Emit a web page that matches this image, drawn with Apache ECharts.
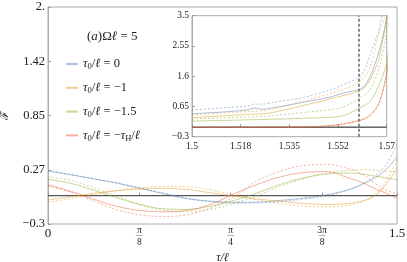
<!DOCTYPE html>
<html><head><meta charset="utf-8">
<script src="https://cdn.jsdelivr.net/npm/echarts@6/dist/echarts.min.js"></script>
<style>html,body{margin:0;padding:0;background:#fff}#c{width:407px;height:262px}</style>
</head><body><div id="c"></div>
<script>
// ---- main panel data (tau/l from 0 to 1.5) ----
const tau = [0,0.1,0.2,0.3,0.4,0.5,0.6,0.7,0.8,0.9,1.0,1.1,1.2,1.3,1.35,1.4,1.45,1.5];
const blueSolid   = [0.26,0.22,0.176,0.13,0.075,0.02,-0.03,-0.058,-0.07,-0.068,-0.05,-0.025,0.01,0.07,0.12,0.18,0.27,0.41];
const blueDashed  = [0.27,0.225,0.18,0.135,0.08,0.025,-0.032,-0.065,-0.08,-0.077,-0.062,-0.036,0.0,0.07,0.125,0.2,0.32,0.54];
const orangeSolid = [-0.045,-0.01,0.025,0.055,0.07,0.078,0.065,0.03,-0.005,-0.035,-0.06,-0.082,-0.093,-0.08,-0.055,-0.01,0.11,0.29];
const orangeDashed= [-0.07,-0.03,0.015,0.055,0.085,0.1,0.095,0.06,0.005,-0.045,-0.085,-0.11,-0.12,-0.1,-0.065,0.0,0.14,0.38];
const greenSolid  = [0.175,0.13,0.055,-0.025,-0.095,-0.14,-0.145,-0.11,-0.05,0.03,0.12,0.19,0.23,0.24,0.23,0.21,0.19,0.17];
const greenDashed = [0.2,0.16,0.08,-0.01,-0.1,-0.155,-0.17,-0.145,-0.08,0.0,0.1,0.18,0.24,0.27,0.275,0.27,0.26,0.255];
const redSolid    = [0.115,0.045,-0.04,-0.115,-0.158,-0.17,-0.155,-0.09,0.02,0.12,0.2,0.245,0.255,0.18,0.14,0.08,0.03,-0.03];
const redDashed   = [0.1,0.035,-0.06,-0.15,-0.205,-0.22,-0.2,-0.13,-0.01,0.16,0.26,0.32,0.33,0.28,0.23,0.14,0.06,0.02];

// ---- inset data (tau/l from 1.5 to 1.57) ----
const insetBlueSolid   = [[1.5,0.42],[1.51,0.47],[1.52,0.54],[1.5227,0.6],[1.525,0.56],[1.53,0.62],[1.54,0.78],[1.55,0.95],[1.5539,1.06],[1.561,1.22],[1.564,1.58],[1.5672,2.37],[1.5701,3.5],[1.571,4.5]];
const insetBlueDashed  = [[1.5,0.54],[1.51,0.6],[1.52,0.67],[1.5227,0.73],[1.525,0.72],[1.53,0.79],[1.54,0.93],[1.55,1.18],[1.554,1.32],[1.561,1.64],[1.564,2.27],[1.567,3.0],[1.5682,3.5],[1.57,4.5]];
const insetOrangeSolid = [[1.5,0.3],[1.51,0.35],[1.52,0.4],[1.5273,0.435],[1.54,0.68],[1.5539,0.98],[1.561,1.17],[1.564,1.48],[1.5672,2.16],[1.5701,3.5],[1.571,4.5]];
const insetOrangeDashed= [[1.5,0.38],[1.51,0.44],[1.52,0.49],[1.5273,0.54],[1.54,0.82],[1.5539,1.17],[1.561,1.48],[1.564,1.88],[1.567,2.89],[1.5694,3.5],[1.571,4.5]];
const insetGreenSolid  = [[1.5,0.19],[1.51,0.21],[1.52,0.23],[1.5273,0.246],[1.54,0.28],[1.5539,0.35],[1.561,0.64],[1.564,0.8],[1.5672,1.32],[1.5701,2.05],[1.571,3.0]];
const insetGreenDashed = [[1.5,0.256],[1.51,0.29],[1.52,0.32],[1.5273,0.35],[1.54,0.46],[1.5539,0.62],[1.561,0.956],[1.564,1.17],[1.5672,1.85],[1.5694,2.68],[1.5705,3.5],[1.571,4.0]];
const insetRedSolid    = [[1.5,0.0],[1.52,0.0],[1.54,0.01],[1.548,0.04],[1.554,0.1],[1.561,0.23],[1.564,0.38],[1.5672,0.75],[1.5701,1.74],[1.571,2.5]];
const insetRedDashed   = [[1.5,-0.01],[1.52,-0.01],[1.54,0.0],[1.548,0.03],[1.554,0.09],[1.561,0.22],[1.564,0.36],[1.5672,0.72],[1.5701,1.7],[1.571,2.4]];
const tauH = 1.561;

// ---- ticks ----
const mainYTicks = [-0.3, 0.275, 0.85, 1.425, 2.0];
const mainYLabels = ['\u22120.3', '0.27', '0.85', '1.42', '2.'];
const mainXTicks = [0, Math.PI/8, Math.PI/4, 3*Math.PI/8, 1.5];
const mainXLabels = ['{r|0}', '{n|\u03c0}\n{b|\u2014}\n{d|8}', '{n|\u03c0}\n{b|\u2014}\n{d|4}', '{n|3\u03c0}\n{b|\u2014}\n{d|8}', '{r|1.5}'];
const insetYTicks = [-0.3, 0.65, 1.6, 2.55, 3.5];
const insetYLabels = ['\u22120.3', '0.65', '1.6', '2.55', '3.5'];
const insetXTicks = [1.5, 1.5175, 1.535, 1.5525, 1.57];
const insetXLabels = ['1.5', '1.518', '1.535', '1.552', '1.57'];
const legendNames = ['\u03c40/\u2113 = 0', '\u03c40/\u2113 = \u22121', '\u03c40/\u2113 = \u22121.5', '\u03c40/\u2113 = \u2212\u03c4H/\u2113'];
const legendRich = ['{i|\u03c4}{s|0}{t|/}{i|\u2113}{t| = 0}', '{i|\u03c4}{s|0}{t|/}{i|\u2113}{t| = \u22121}', '{i|\u03c4}{s|0}{t|/}{i|\u2113}{t| = \u22121.5}', '{i|\u03c4}{s|0}{t|/}{i|\u2113}{t| = \u2212}{i|\u03c4}{s|H}{t|/}{i|\u2113}'];

const colors = ['rgba(94,129,181,0.5)', 'rgba(225,156,36,0.5)', 'rgba(143,176,50,0.5)', 'rgba(235,98,53,0.5)'];
const SERIF = "'Liberation Serif','DejaVu Serif',serif";

function pick(v, ticks, labels) {
  let best = 0, bd = 1e9;
  ticks.forEach((t, i) => { const d = Math.abs(t - v); if (d < bd) { bd = d; best = i; } });
  return labels[best];
}
const zip = vals => tau.map((t, i) => [t, vals[i]]);

const mainSets = [blueSolid, orangeSolid, greenSolid, redSolid];
const mainDash = [blueDashed, orangeDashed, greenDashed, redDashed];
const insetSets = [insetBlueSolid, insetOrangeSolid, insetGreenSolid, insetRedSolid];
const insetDash = [insetBlueDashed, insetOrangeDashed, insetGreenDashed, insetRedDashed];

const series = [];
series.push({type:'line', xAxisIndex:0, yAxisIndex:0, data:[[0,0],[1.5,0]], symbol:'none', silent:true,
  lineStyle:{color:'#555', width:1.3}, z:1});
series.push({type:'line', xAxisIndex:1, yAxisIndex:1, data:[[1.5,0],[1.57,0]], symbol:'none', silent:true,
  lineStyle:{color:'#555', width:1.3}, z:6,
  markLine:{silent:true, symbol:'none', label:{show:false}, lineStyle:{color:'#666', type:[3,2], width:1.5}, data:[{xAxis:tauH}]}});
for (let k = 0; k < 4; k++) {
  series.push({name: legendNames[k], type:'line', xAxisIndex:0, yAxisIndex:0, data: zip(mainSets[k]), smooth:0.4,
    symbol:'none', lineStyle:{color:colors[k], width:1}, itemStyle:{color:colors[k]}, z:2});
  series.push({name: 'dash' + k, type:'line', xAxisIndex:0, yAxisIndex:0, data: zip(mainDash[k]), smooth:0.4,
    symbol:'none', lineStyle:{color:colors[k], width:1, type:[2,2]}, z:2});
  series.push({name: legendNames[k], type:'line', xAxisIndex:1, yAxisIndex:1, data: insetSets[k], smooth:0.3,
    symbol:'none', lineStyle:{color:colors[k], width:1}, itemStyle:{color:colors[k]}, z:6});
  series.push({name: 'idash' + k, type:'line', xAxisIndex:1, yAxisIndex:1, data: insetDash[k], smooth:0.3,
    symbol:'none', lineStyle:{color:colors[k], width:1, type:[2,2]}, z:6});
}

const chart = echarts.init(document.getElementById('c'), null, {renderer:'canvas'});
chart.setOption({
  animation: false,
  backgroundColor: '#fff',
  title: {
    text: '{t|(}{i|a}{t|)\u03a9}{i|\u2113}{t| = 5}', left: 82, top: 25,
    textStyle: {fontWeight:'normal', rich: {
      t:{fontFamily:SERIF, fontSize:13, fontWeight:'normal', color:'#222'},
      i:{fontFamily:SERIF, fontSize:13, fontStyle:'italic', fontWeight:'normal', color:'#222'}}}
  },
  legend: {
    data: legendNames, orient:'vertical', left: 60, top: 52, itemWidth: 12, itemHeight: 14, itemGap: 9.3,
    selectedMode: false,
    itemStyle: {opacity: 0},
    formatter: name => legendRich[legendNames.indexOf(name)],
    textStyle: {color:'#222', lineHeight:14, rich: {
      i:{fontFamily:SERIF, fontSize:12.5, fontStyle:'italic', color:'#222'},
      t:{fontFamily:SERIF, fontSize:12.5, color:'#222'},
      s:{fontFamily:SERIF, fontSize:8.5, color:'#222', padding:[6,0,0,0]}
    }}
  },
  grid: [
    {left:48, right:10, top:7, bottom:38, show:true, borderColor:'#aaa', borderWidth:1, outerBoundsMode:'none', containLabel:false},
    {left:192, top:15.7, width:194.7, height:121, show:true, borderColor:'#aaa', borderWidth:1, backgroundColor:'#fff', z:4, outerBoundsMode:'none', containLabel:false}
  ],
  xAxis: [
    {type:'value', gridIndex:0, min:0, max:1.5,
      name:'\u03c4/\u2113', nameLocation:'middle', nameGap:24,
      nameTextStyle:{fontFamily:SERIF, fontSize:12, fontStyle:'italic', color:'#222'},
      axisLine:{lineStyle:{color:'#aaa'}}, splitLine:{show:false},
      axisTick:{inside:true, length:3, customValues: mainXTicks, lineStyle:{color:'#999'}},
      axisLabel:{customValues: mainXTicks, margin:3, formatter: v => pick(v, mainXTicks, mainXLabels),
        rich:{r:{fontFamily:SERIF, fontSize:13, color:'#222', lineHeight:13},
              n:{fontFamily:SERIF, fontSize:9.5, color:'#222', lineHeight:7},
              b:{fontFamily:SERIF, fontSize:7, color:'#222', lineHeight:3},
              d:{fontFamily:SERIF, fontSize:9.5, color:'#222', lineHeight:10}}}},
    {type:'value', gridIndex:1, min:1.5, max:1.57, z:6,
      axisLine:{lineStyle:{color:'#aaa'}}, splitLine:{show:false},
      axisTick:{inside:true, length:3, customValues: insetXTicks, lineStyle:{color:'#999'}},
      axisLabel:{customValues: insetXTicks, margin:5, fontFamily:SERIF, fontSize:9.5, color:'#222',
        formatter: v => pick(v, insetXTicks, insetXLabels)}}
  ],
  yAxis: [
    {type:'value', gridIndex:0, min:-0.3, max:2.0,
      name:'\u2131', nameLocation:'middle', nameGap:37, nameRotate:90,
      nameTextStyle:{fontFamily:"'DejaVu Serif',serif", fontSize:11, color:'#222'},
      axisLine:{show:true, lineStyle:{color:'#aaa'}}, splitLine:{show:false},
      axisTick:{show:true, inside:true, length:3, customValues: mainYTicks, lineStyle:{color:'#999'}},
      axisLabel:{customValues: mainYTicks, margin:3, fontFamily:SERIF, fontSize:12.5, color:'#222',
        formatter: v => pick(v, mainYTicks, mainYLabels)}},
    {type:'value', gridIndex:1, min:-0.3, max:3.5, z:6,
      axisLine:{show:true, lineStyle:{color:'#aaa'}}, splitLine:{show:false},
      axisTick:{show:true, inside:true, length:3, customValues: insetYTicks, lineStyle:{color:'#999'}},
      axisLabel:{customValues: insetYTicks, margin:3, fontFamily:SERIF, fontSize:9.5, color:'#222',
        formatter: v => pick(v, insetYTicks, insetYLabels)}}
  ],
  series: series
});
</script></body></html>
